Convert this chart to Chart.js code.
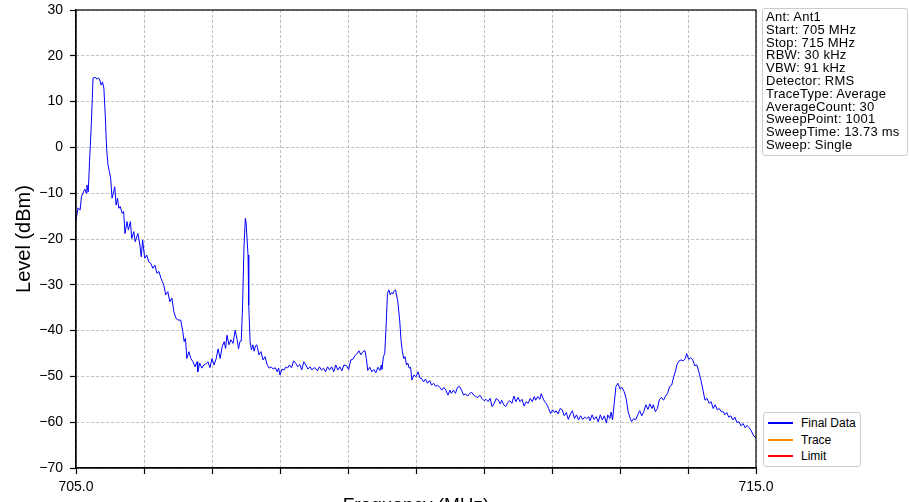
<!DOCTYPE html>
<html lang="en">
<head>
<meta charset="UTF-8">
<title>Spectrum</title>
<style>
  html, body { margin: 0; padding: 0; background: #fff; overflow: hidden; }
  #wrap { position: relative; width: 909px; height: 502px; }
  #infoBox {
    position: absolute; left: 762px; top: 8px; width: 141px; height: 144px;
    padding: 2px 0 0 3px; border: 1px solid #cccccc; border-radius: 3px; background: #fff;
    font-family: "Liberation Sans", Arial, sans-serif; font-size: 13px; line-height: 12.8px;
    letter-spacing: 0.25px; color: #000; white-space: nowrap;
  }
  #legendBox {
    position: absolute; left: 763px; top: 412px; width: 96px; height: 53px;
    border: 1px solid #cccccc; border-radius: 3px; background: #fff;
    font-family: "Liberation Sans", Arial, sans-serif; font-size: 12px; color: #000;
  }
  .row { position: absolute; left: 0; height: 16px; width: 96px; }
  .row span.ln { position: absolute; left: 4px; top: 7px; width: 25px; height: 2px; }
  .row span.tx { position: absolute; left: 37px; top: 1px; }
</style>
</head>
<body>
<div id="wrap">
  <canvas id="myChart" width="909" height="502"></canvas>
  <div id="infoBox"></div>
  <div id="legendBox"></div>
</div>

<script src="https://cdn.jsdelivr.net/npm/chart.js@4.4.1/dist/chart.umd.min.js"></script>
<script>
// trace (MHz, dBm)
var freq = [
  705.00, 705.03, 705.06, 705.08, 705.11, 705.13, 705.15, 705.16, 705.18, 705.20,
  705.22, 705.24, 705.25, 705.28, 705.31, 705.33, 705.35, 705.37, 705.39, 705.41,
  705.43, 705.45, 705.47, 705.49, 705.51, 705.53, 705.55, 705.57, 705.59, 705.61,
  705.63, 705.65, 705.68, 705.70, 705.72, 705.75, 705.77, 705.80, 705.82, 705.85,
  705.87, 705.91, 705.94, 705.96, 705.98, 706.01, 706.04, 706.07, 706.10, 706.13,
  706.16, 706.19, 706.22, 706.25, 706.29, 706.32, 706.35, 706.38, 706.41, 706.44,
  706.47, 706.50, 706.54, 706.57, 706.59, 706.61, 706.63, 706.66, 706.69, 706.72,
  706.75, 706.78, 706.79, 706.82, 706.85, 706.88,
  706.90, 706.94, 706.97, 707.00, 707.03, 707.06, 707.09, 707.12, 707.15, 707.18,
  707.20, 707.22, 707.25, 707.28, 707.31, 707.34, 707.37, 707.39, 707.41, 707.43,
  707.45, 707.47, 707.49, 707.50, 707.53, 707.54, 707.56, 707.58, 707.60, 707.62,
  707.64, 707.66, 707.69, 707.72, 707.75, 707.78, 707.81, 707.84, 707.87, 707.90,
  707.93, 707.96, 707.98, 708.00, 708.03, 708.06, 708.09, 708.11, 708.14, 708.17,
  708.20, 708.23, 708.26, 708.29, 708.32, 708.35, 708.38, 708.41, 708.44, 708.47,
  708.50, 708.52, 708.55, 708.58, 708.61, 708.64, 708.67, 708.70, 708.73, 708.76,
  708.79, 708.82, 708.85, 708.88, 708.91, 708.94,
  708.98, 709.01, 709.04, 709.07, 709.10, 709.13, 709.16, 709.19, 709.22, 709.25,
  709.27, 709.29, 709.32, 709.35, 709.38, 709.41, 709.44, 709.47, 709.49, 709.50,
  709.52, 709.54, 709.56, 709.58, 709.60, 709.62, 709.64, 709.66, 709.67, 709.70,
  709.71, 709.73, 709.76, 709.78, 709.80, 709.82, 709.84, 709.86, 709.88, 709.90,
  709.92, 709.94, 709.97, 710.00, 710.03, 710.06, 710.08, 710.11, 710.14, 710.17,
  710.20, 710.23, 710.26, 710.29, 710.32, 710.35, 710.38, 710.41, 710.44, 710.47,
  710.50, 710.52, 710.55, 710.58, 710.61, 710.64, 710.67, 710.70, 710.73, 710.76,
  710.79, 710.82, 710.85, 710.88, 710.91, 710.94, 710.97,
  711.00, 711.03, 711.06, 711.09, 711.12, 711.15, 711.18, 711.21, 711.24, 711.26,
  711.29, 711.32, 711.35, 711.38, 711.41, 711.44, 711.47, 711.50, 711.53, 711.56,
  711.59, 711.62, 711.65, 711.68, 711.71, 711.74, 711.76, 711.79, 711.82, 711.84,
  711.87, 711.89, 711.92, 711.95, 711.98, 712.01, 712.04, 712.06, 712.09, 712.12,
  712.15, 712.18, 712.21, 712.24, 712.27, 712.30, 712.33, 712.36, 712.39, 712.42,
  712.45, 712.48, 712.51, 712.54, 712.56, 712.59, 712.62, 712.65, 712.68, 712.71,
  712.74, 712.77, 712.80,
  712.82, 712.85, 712.87, 712.89, 712.91, 712.94, 712.97, 713.00, 713.03, 713.06,
  713.09, 713.12, 713.15, 713.17, 713.20, 713.23, 713.26, 713.29, 713.32, 713.35,
  713.38, 713.41, 713.44, 713.47, 713.49, 713.52, 713.55, 713.58, 713.61, 713.64,
  713.67, 713.70, 713.73, 713.76, 713.79, 713.82, 713.84, 713.87, 713.90, 713.93,
  713.96, 713.98, 714.01, 714.04, 714.07, 714.10, 714.13, 714.16, 714.19, 714.22,
  714.25, 714.28, 714.31, 714.34, 714.37, 714.40, 714.43, 714.46, 714.49, 714.52,
  714.54, 714.57, 714.60, 714.63, 714.66, 714.69, 714.72, 714.75, 714.78, 714.81,
  714.84, 714.87, 714.90, 714.93, 714.96, 715.00
];

var level = [
  -15.9, -13.2, -13.7, -10.8, -9.7, -9.1, -10.0, -8.2, -9.7, -2.8,
  3.4, 10.7, 15.1, 15.3, 14.9, 15.2, 14.7, 13.6, 14.3, 12.9,
  7.1, -0.2, -3.8, -5.3, -6.7, -11.1, -10.0, -8.6, -12.6, -11.1,
  -13.3, -12.9, -14.4, -14.0, -18.8, -16.2, -18.0, -16.2, -19.9, -18.4,
  -20.6, -18.8, -21.3, -23.9, -20.2, -24.2, -23.5, -25.0, -25.3, -26.4,
  -25.7, -27.5, -27.1, -28.6, -30.0, -32.2, -31.5, -33.7, -32.9, -35.9,
  -37.3, -37.7, -37.7, -40.2, -42.4, -41.7, -46.1, -44.6, -46.1, -46.8,
  -47.9, -46.8, -49.0, -47.1, -48.2, -47.5,
  -47.4, -46.8, -48.1, -46.1, -47.5, -46.2, -44.0, -46.1, -43.5, -42.4,
  -43.9, -41.0, -43.1, -42.0, -42.8, -39.9, -42.0, -44.0, -42.4, -42.3,
  -34.4, -22.0, -15.5, -16.2, -23.5, -34.4, -42.4, -44.2, -43.1, -44.5,
  -43.3, -43.1, -45.3, -44.6, -46.4, -45.7, -47.4, -48.2, -47.9, -48.4,
  -48.1, -49.0, -48.2, -49.7, -48.4, -48.6, -47.9, -48.2, -47.5, -48.1,
  -46.6, -47.1, -47.9, -47.4, -48.6, -46.8, -47.5, -48.4, -47.9, -48.6,
  -48.1, -48.2, -48.8, -47.9, -48.6, -48.2, -49.0, -47.9, -48.6, -47.9,
  -49.0, -47.5, -48.6, -47.9, -48.8, -47.5,
  -47.7, -48.5, -46.4, -46.3, -45.5, -45.1, -44.4, -45.3, -44.6, -44.4,
  -46.1, -48.7, -48.0, -49.0, -48.5, -49.2, -48.0, -48.7, -47.5, -48.5,
  -45.7, -45.0, -39.2, -31.9, -31.1, -32.2, -31.7, -32.0, -31.5, -31.1,
  -32.0, -33.3, -37.7, -42.1, -44.6, -46.1, -45.7, -47.5, -47.1, -48.2,
  -48.0, -50.8, -49.7, -50.1, -49.0, -50.4, -50.4, -51.2, -50.6, -51.5,
  -50.9, -51.9, -51.5, -52.2, -51.9, -52.4, -53.0, -52.4, -53.0, -54.1,
  -53.0, -53.7, -53.0, -53.7, -52.4, -52.2, -53.0, -54.1, -53.8, -54.3,
  -53.7, -53.5, -54.1, -54.4, -54.6, -54.1, -54.8,
  -55.3, -55.0, -55.5, -54.8, -56.6, -55.9, -54.8, -55.2, -56.0, -55.2,
  -56.2, -56.6, -55.7, -55.3, -55.9, -54.3, -55.5, -54.6, -55.5, -55.0,
  -56.5, -55.5, -55.9, -54.8, -55.5, -54.4, -55.2, -54.4, -55.0, -53.8,
  -54.8, -55.5, -56.0, -57.0, -58.1, -57.3, -57.9, -57.5, -58.2, -57.0,
  -57.3, -58.6, -57.9, -59.4, -58.2, -57.5, -59.2, -58.4, -59.5, -58.6,
  -59.4, -58.9, -59.2, -58.8, -59.7, -58.4, -59.4, -58.8, -59.9, -58.4,
  -59.5, -58.6, -60.2,
  -58.4, -59.2, -57.8, -59.5, -56.6, -52.2, -51.5, -52.8, -52.4, -53.3,
  -54.8, -57.7, -59.2, -59.9, -59.2, -59.5, -58.4, -57.5, -58.6, -57.7,
  -56.2, -57.2, -56.0, -57.0, -56.2, -57.7, -57.0, -55.0, -54.6, -55.2,
  -54.3, -53.7, -52.2, -51.9, -50.1, -48.6, -47.3, -46.6, -46.4, -46.6,
  -46.1, -45.0, -46.3, -45.9, -46.4, -47.7, -47.5, -49.0, -50.8, -53.0,
  -55.2, -54.8, -55.9, -55.5, -57.0, -56.2, -57.3, -57.0, -57.7, -57.7,
  -58.4, -57.9, -58.9, -58.6, -59.5, -58.9, -60.1, -59.9, -60.8, -60.3,
  -61.2, -60.7, -61.2, -61.9, -62.8, -63.5
];

var xTickLabels = [705, 715];
var seriesNames = ['Final Data', 'Trace', 'Limit'];
var seriesColors = ['#0000ff', '#ff8c00', '#ff0000'];
var infoLines = [
  'Ant: Ant1', 'Start: 705 MHz', 'Stop: 715 MHz', 'RBW: 30 kHz', 'VBW: 91 kHz',
  'Detector: RMS', 'TraceType: Average', 'AverageCount: 30', 'SweepPoint: 1001',
  'SweepTime: 13.73 ms', 'Sweep: Single'
];

document.addEventListener("DOMContentLoaded", function () {

  // info box + legend as plain text
  document.getElementById('infoBox').innerHTML = infoLines.join('<br>');
  var lg = document.getElementById('legendBox');
  for (var i = 0; i < seriesNames.length; i++) {
    var r = document.createElement('div');
    r.className = 'row';
    r.style.top = (2 + i * 16.7) + 'px';
    r.innerHTML = '<span class="ln" style="background:' + seriesColors[i] + '"></span>' +
                  '<span class="tx">' + seriesNames[i] + '</span>';
    lg.appendChild(r);
  }

  var pts = freq.map(function (f, i) { return { x: f, y: level[i] }; });

  var frame = {
    id: 'frame',
    afterDraw: function (chart) {
      var a = chart.chartArea, ctx = chart.ctx;
      ctx.save();
      ctx.strokeStyle = '#000';
      ctx.lineWidth = 1.2;
      ctx.strokeRect(a.left, a.top, a.right - a.left, a.bottom - a.top);
      ctx.restore();
    }
  };

  Chart.defaults.font.family = '"Liberation Sans", Arial, sans-serif';
  Chart.defaults.color = '#000';

  var ctx = document.getElementById('myChart').getContext('2d');
  new Chart(ctx, {
    type: 'line',
    data: {
      datasets: [
        { label: seriesNames[0], data: pts, borderColor: seriesColors[0], borderWidth: 1,
          pointRadius: 0, tension: 0, fill: false },
        { label: seriesNames[1], data: [], borderColor: seriesColors[1], borderWidth: 1, pointRadius: 0 },
        { label: seriesNames[2], data: [], borderColor: seriesColors[2], borderWidth: 1, pointRadius: 0 }
      ]
    },
    options: {
      responsive: false,
      animation: false,
      layout: { padding: { left: 0, right: 153, top: 10, bottom: 0 } },
      plugins: { legend: { display: false }, tooltip: { enabled: false } },
      scales: {
        x: {
          type: 'linear', min: 705, max: 715,
          ticks: {
            stepSize: 1, maxRotation: 0, autoSkip: false, padding: 5,
            font: { size: 14 },
            callback: function (v) { return xTickLabels.indexOf(v) >= 0 ? v.toFixed(1) : ''; }
          },
          grid: { color: '#b0b0b0', lineWidth: 0.8, tickLength: 6, tickColor: '#000',
                  tickWidth: 1.2, tickBorderDash: [] },
          border: { display: true, color: '#000', width: 1.2, dash: [3, 2] },
          title: { display: true, text: 'Frequency (MHz)', font: { size: 19 },
                   padding: { top: 0, bottom: -15 } },
          afterFit: function (s) { s.height = 34; s.paddingLeft = 0; s.paddingRight = 0; }
        },
        y: {
          min: -70, max: 30,
          ticks: {
            stepSize: 10, padding: 7, font: { size: 14 },
            callback: function (v) { return String(v).replace('-', '\u2212'); }
          },
          grid: { color: '#b0b0b0', lineWidth: 0.8, tickLength: 6, tickColor: '#000',
                  tickWidth: 1.2, tickBorderDash: [] },
          border: { display: true, color: '#000', width: 1.2, dash: [3, 2] },
          title: { display: true, text: 'Level (dBm)', font: { size: 20 },
                   padding: { top: 12, bottom: 0 } },
          afterFit: function (s) { s.width = 76; s.paddingTop = 0; s.paddingBottom = 0; }
        }
      }
    },
    plugins: [frame]
  });

});
</script>
</body>
</html>
